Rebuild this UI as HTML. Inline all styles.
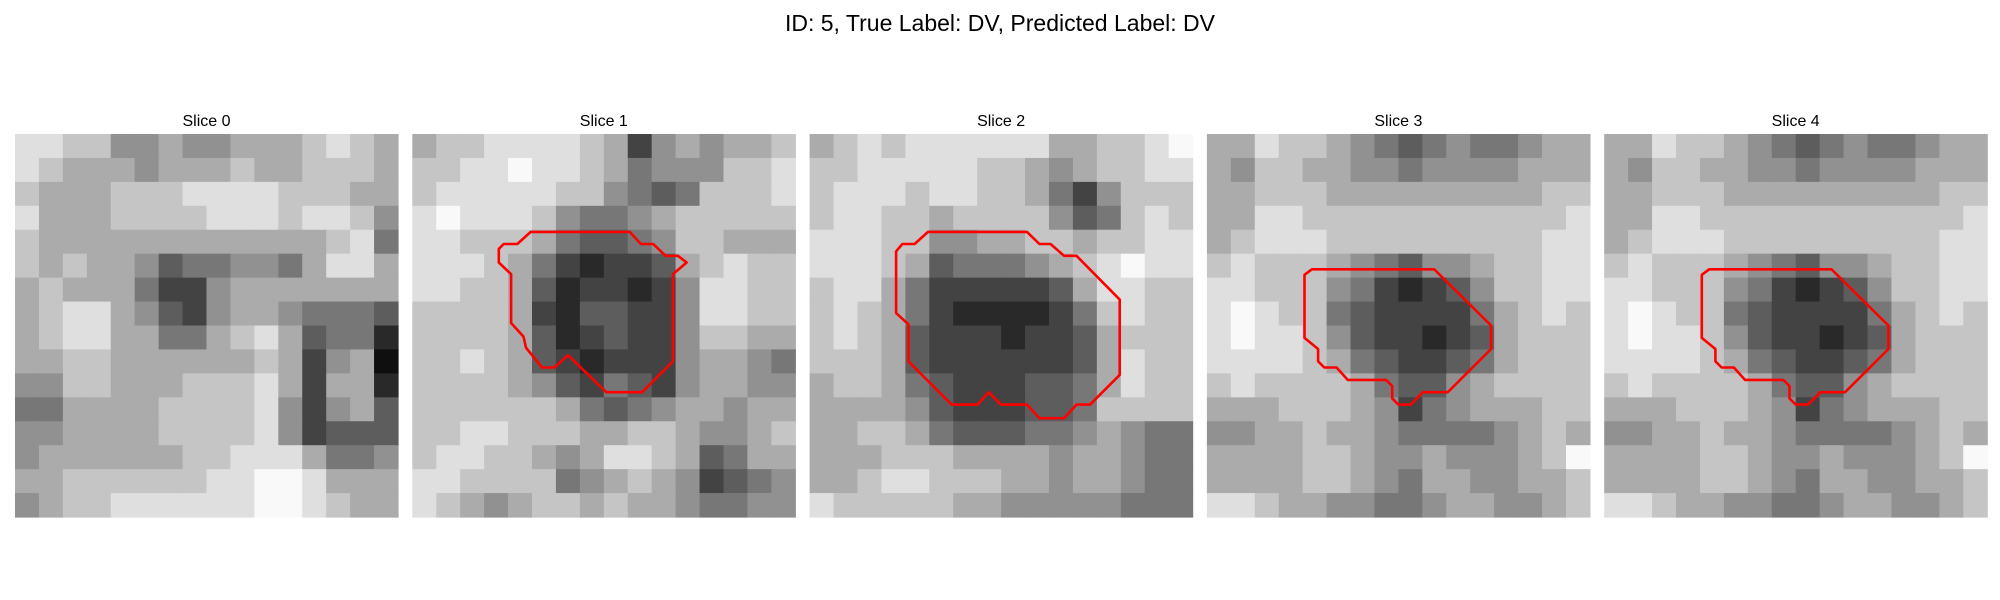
<!DOCTYPE html>
<html><head><meta charset="utf-8"><style>
html,body{margin:0;padding:0;background:#fff;width:2000px;height:600px;overflow:hidden}
svg text{font-family:"Liberation Sans","DejaVu Sans",sans-serif;fill:#000}
</style></head><body>
<svg id="fig" width="2000" height="600" viewBox="0 0 2000 600" xmlns="http://www.w3.org/2000/svg">
<rect width="2000" height="600" fill="#fff"/>
<text x="1000" y="31" font-size="23" text-anchor="middle">ID: 5, True Label: DV, Predicted Label: DV</text>
<g id="panels"></g>
</svg>
<script>
const sliceTitles = ["Slice 0","Slice 1","Slice 2","Slice 3","Slice 4"];
const grid0 = ["8877556556667876","8766656667667776","7666777888877766","8666777788878875","7666666666666784","7676653445546886","6766642256666666","6788653256654443","6788664467863441","6677666666762560","5577666777862661","4466667777852563","5566667777852333","5666666778886445","6677777788998666","5677888888998766"];
const grid1 = ["6778888762565667","7788988764555778","7888887754347778","8988875445677777","8877764334577666","8887642122367877","8877631221258877","7777621332258877","7777631232257766","7787632122256654","7777653243256655","7777776434566566","7788777667765567","7887765688763466","8877774567652345","8765677676654455"];
const grid2 = ["6787888888667789","7788888776567788","7888788776425777","7887767777534787","8887755667767788","8887634445678988","7886422222368877","7876421111247877","7876322212236777","7776322222236877","6776432223346877","6666532223347777","6677643334456544","6667776666566544","6678877766566544","8777776655555444"];
const grid3 = ["6687765434544566","6577665545555666","6677766666666677","6688777777777778","6788877777777788","7877765435567788","8877754212357788","8987743222246787","8988753221236777","8888764322346777","7877776433567777","6667776524566677","5566766544445676","6666776556555679","6666776546655667","8876655445665567"];
const grids = [grid0, grid1, grid2, grid3, grid3];
const contour1 = [[9.58,7.92],[17.6,7.92],[18.5,8.9],[19.5,8.9],[20.5,9.86],[21.5,9.86],[22.2,10.4],[21.1,11.35],[21.1,18.4],[18.6,20.9],[15.7,20.9],[12.6,17.9],[11.5,18.9],[10.5,18.9],[9.2,17.3],[9.0,16.4],[8.0,15.3],[8.0,11.35],[7.0,10.4],[7.0,9.3],[7.4,8.9],[8.5,8.9]];
const contour2 = [[9.58,7.92],[17.6,7.92],[18.6,8.9],[19.5,8.9],[20.6,9.86],[21.6,9.86],[25.1,13.4],[25.1,19.5],[22.7,21.9],[21.6,21.9],[20.6,23.0],[18.6,23.0],[17.6,21.9],[15.5,21.9],[14.5,20.9],[13.6,21.9],[11.5,21.9],[8.0,18.4],[8.0,15.4],[7.0,14.5],[7.0,9.5],[7.5,8.9],[8.5,8.9]];
const contour3 = [[8.5,10.95],[18.4,10.95],[23,15.5],[23,17.4],[19.5,20.9],[17.5,20.9],[16.5,21.9],[15.5,21.9],[15,21.4],[15,20.4],[14.5,19.9],[11.4,19.9],[10.5,18.9],[9.5,18.9],[9,18.4],[9,17.4],[7.9,16.5],[7.9,11.4]];
const contours = [null, contour1, contour2, contour3, contour3];

const NS="http://www.w3.org/2000/svg";
const PX0=15, STEP=397.3, PY=134, PS=383, NCELL=31;
const g=document.getElementById('panels');
function gray(v){const c=Math.round(15+v*26);return `rgb(${c},${c},${c})`;}
sliceTitles.forEach((t,i)=>{
  const x0=PX0+i*STEP;
  const pg=document.createElementNS(NS,'g');
  
  
  const tt=document.createElementNS(NS,'text');
  
  
  tt.setAttribute('x',x0+PS/2);tt.setAttribute('y',126);tt.setAttribute('font-size','16');tt.setAttribute('text-anchor','middle');
  tt.textContent=t;pg.appendChild(tt);
  const rows=grids[i], n=rows.length, cs=PS/n;
  rows.forEach((row,r)=>{
    for(let c=0;c<row.length;c++){
      const rc=document.createElementNS(NS,'rect');
      
      
      rc.setAttribute('x',(x0+c*cs).toFixed(2));rc.setAttribute('y',(PY+r*cs).toFixed(2));
      rc.setAttribute('width',(cs+0.6).toFixed(2));rc.setAttribute('height',(cs+0.6).toFixed(2));
      rc.setAttribute('fill',gray(+row[c]));
      pg.appendChild(rc);
    }
  });
  const ct=contours[i];
  if(ct){
    const u=PS/NCELL;
    const pl=document.createElementNS(NS,'polygon');
    
    
    pl.setAttribute('points',ct.map(p=>(x0+p[0]*u).toFixed(1)+','+(PY+p[1]*u).toFixed(1)).join(' '));
    pl.setAttribute('fill','none');pl.setAttribute('stroke','#ff0000');pl.setAttribute('stroke-width','2.6');pl.setAttribute('stroke-linejoin','round');
    pg.appendChild(pl);
  }
  g.appendChild(pg);
});
</script>
</body></html>
